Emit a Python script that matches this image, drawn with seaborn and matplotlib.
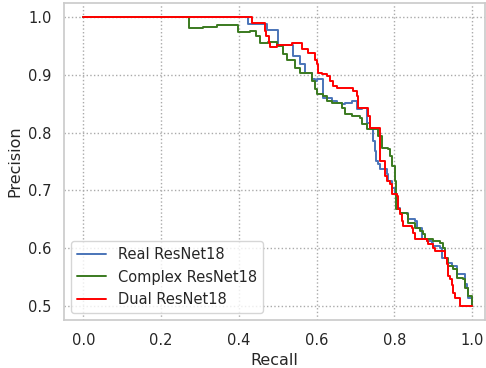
import seaborn as sns
import matplotlib.pyplot as plt
import pandas as pd

# PR curves (recall, precision), drawn as steps
real_recall = [0.0, 0.423, 0.472, 0.500, 0.539, 0.557, 0.570, 0.588, 0.595, 0.601, 0.616, 0.639,
               0.652, 0.665, 0.673, 0.691, 0.704, 0.716, 0.729, 0.737, 0.745, 0.750, 0.752, 0.758,
               0.763, 0.781, 0.784, 0.794, 0.802, 0.807, 0.809, 0.814, 0.835, 0.853, 0.858, 0.871,
               0.884, 0.897, 0.899, 0.918, 0.923, 0.936, 0.948, 0.961, 0.982, 0.987, 0.990, 1.0, 1.0]
real_precision = [1.0, 0.988, 0.979, 0.953, 0.933, 0.920, 0.903, 0.894, 0.889, 0.893, 0.860, 0.855,
                  0.851, 0.849, 0.851, 0.855, 0.841, 0.843, 0.817, 0.808, 0.785, 0.768, 0.751, 0.746,
                  0.737, 0.728, 0.716, 0.704, 0.694, 0.682, 0.670, 0.661, 0.651, 0.647, 0.635, 0.616,
                  0.612, 0.609, 0.604, 0.600, 0.583, 0.574, 0.569, 0.555, 0.538, 0.531, 0.514, 0.503, 0.500]

complex_recall = [0.0, 0.271, 0.307, 0.343, 0.376, 0.397, 0.428, 0.443, 0.454, 0.474, 0.497, 0.513,
                  0.523, 0.544, 0.557, 0.588, 0.595, 0.601, 0.616, 0.626, 0.639, 0.665, 0.673, 0.691,
                  0.711, 0.716, 0.729, 0.758, 0.768, 0.784, 0.789, 0.794, 0.802, 0.804, 0.814, 0.832,
                  0.835, 0.853, 0.866, 0.874, 0.879, 0.899, 0.918, 0.925, 0.930, 0.938, 0.951, 0.961,
                  0.977, 0.982, 0.990, 1.0, 1.0]
complex_precision = [1.0, 0.981, 0.984, 0.986, 0.987, 0.974, 0.977, 0.967, 0.956, 0.957, 0.950, 0.936,
                     0.927, 0.912, 0.903, 0.889, 0.875, 0.867, 0.863, 0.855, 0.851, 0.843, 0.832, 0.829,
                     0.825, 0.815, 0.806, 0.794, 0.773, 0.772, 0.760, 0.742, 0.716, 0.668, 0.661, 0.659,
                     0.644, 0.635, 0.630, 0.625, 0.616, 0.612, 0.609, 0.600, 0.583, 0.569, 0.564, 0.548,
                     0.547, 0.531, 0.517, 0.514, 0.500]

dual_recall = [0.0, 0.433, 0.466, 0.469, 0.477, 0.479, 0.497, 0.536, 0.562, 0.575, 0.577, 0.595,
               0.601, 0.603, 0.613, 0.626, 0.634, 0.642, 0.652, 0.693, 0.704, 0.706, 0.732, 0.737,
               0.763, 0.776, 0.781, 0.789, 0.794, 0.807, 0.809, 0.814, 0.820, 0.822, 0.845, 0.848,
               0.853, 0.884, 0.887, 0.899, 0.905, 0.930, 0.936, 0.938, 0.943, 0.948, 0.951, 0.956,
               0.969, 1.0]
dual_precision = [1.0, 0.990, 0.976, 0.967, 0.955, 0.948, 0.953, 0.955, 0.946, 0.945, 0.938, 0.927,
                  0.919, 0.903, 0.901, 0.898, 0.889, 0.881, 0.877, 0.872, 0.863, 0.843, 0.829, 0.808,
                  0.751, 0.725, 0.716, 0.711, 0.694, 0.690, 0.668, 0.659, 0.647, 0.638, 0.635, 0.626,
                  0.616, 0.612, 0.607, 0.600, 0.595, 0.583, 0.573, 0.552, 0.547, 0.535, 0.522, 0.514,
                  0.500, 0.500]

models = ["Real ResNet18", "Complex ResNet18", "Dual ResNet18"]
colors = ["#4a74b8", "#3a7a1f", "#ff0000"]

df = pd.concat([
    pd.DataFrame({"Recall": real_recall, "Precision": real_precision, "model": models[0]}),
    pd.DataFrame({"Recall": complex_recall, "Precision": complex_precision, "model": models[1]}),
    pd.DataFrame({"Recall": dual_recall, "Precision": dual_precision, "model": models[2]}),
], ignore_index=True)

sns.set_theme(style="whitegrid", rc={"grid.linestyle": ":", "grid.color": "#aaaaaa"})
plt.rcParams["font.family"] = ["DejaVu Sans"]

fig = plt.figure(figsize=(4.86, 3.68), dpi=100)
ax = fig.add_axes([0.1317, 0.1304, 0.8663, 0.8614])

sns.lineplot(data=df, x="Recall", y="Precision", hue="model", palette=colors,
             estimator=None, sort=False, drawstyle="steps-post", linewidth=1.4, ax=ax)

ax.set_xlim(-0.05, 1.033)
ax.set_ylim(0.475, 1.025)
ax.set_xticks([0.0, 0.2, 0.4, 0.6, 0.8, 1.0])
ax.set_yticks([0.5, 0.6, 0.7, 0.8, 0.9, 1.0])
ax.tick_params(labelsize=10.5, pad=3)
ax.set_xlabel("Recall", fontsize=11.5)
ax.set_ylabel("Precision", fontsize=11.5)
ax.legend(loc="lower left", fontsize=10.5, title=None)

fig.savefig("out.png", dpi=100)
